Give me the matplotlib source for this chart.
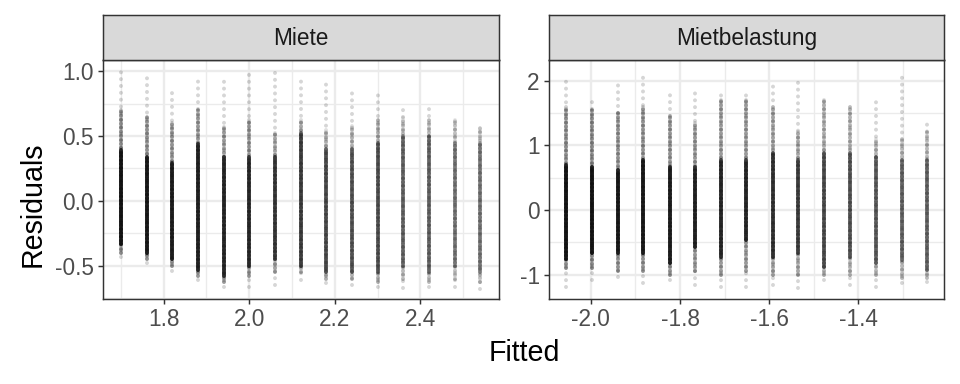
import numpy as np
import matplotlib
matplotlib.use("Agg")
import matplotlib.pyplot as plt
from matplotlib.ticker import FixedLocator

plt.rcParams['font.family'] = ['Liberation Sans', 'DejaVu Sans']

# Miete panel: one column of residuals per fitted value
miete_fitted = [1.70, 1.76, 1.82, 1.88, 1.94, 2.00, 2.06, 2.12, 2.18, 2.24, 2.30, 2.36, 2.42, 2.48, 2.54]
miete_max = [1.00, 0.99, 0.85, 0.93, 0.96, 1.00, 1.00, 0.97, 0.92, 0.88, 0.82, 0.71, 0.72, 0.65, 0.58]
miete_body_hi = [0.70, 0.65, 0.60, 0.70, 0.57, 0.62, 0.52, 0.62, 0.55, 0.58, 0.62, 0.64, 0.62, 0.62, 0.56]
miete_core_hi = [0.39, 0.34, 0.29, 0.44, 0.34, 0.34, 0.34, 0.52, 0.40, 0.40, 0.45, 0.50, 0.50, 0.45, 0.45]
miete_core_lo = [-0.33, -0.40, -0.45, -0.53, -0.58, -0.50, -0.45, -0.50, -0.55, -0.55, -0.55, -0.50, -0.55, -0.50, -0.55]
miete_body_lo = [-0.40, -0.45, -0.50, -0.58, -0.62, -0.58, -0.55, -0.55, -0.60, -0.60, -0.62, -0.60, -0.62, -0.60, -0.62]
miete_min = [-0.43, -0.48, -0.54, -0.61, -0.66, -0.66, -0.65, -0.61, -0.63, -0.65, -0.66, -0.67, -0.66, -0.66, -0.68]
miete_weight = [1.0, 0.95, 0.9, 0.85, 0.8, 0.75, 0.65, 0.6, 0.5, 0.45, 0.45, 0.35, 0.35, 0.25, 0.25]

# Mietbelastung panel
belast_fitted = [-2.055, -1.998, -1.940, -1.882, -1.823, -1.766, -1.709, -1.651,
                 -1.592, -1.535, -1.477, -1.419, -1.361, -1.302, -1.245]
belast_max = [2.09, 1.75, 2.03, 2.10, 1.86, 1.82, 1.87, 1.84, 2.00, 2.01, 1.70, 1.65, 1.76, 2.14, 1.39]
belast_body_hi = [1.60, 1.55, 1.50, 1.60, 1.45, 1.35, 1.70, 1.70, 1.60, 1.20, 1.70, 1.60, 1.10, 1.10, 1.20]
belast_core_hi = [0.70, 0.67, 0.62, 0.77, 0.67, 0.67, 0.77, 0.77, 0.88, 0.77, 0.88, 0.88, 0.82, 0.77, 0.77]
belast_core_lo = [-0.75, -0.67, -0.67, -0.67, -0.82, -0.57, -0.72, -0.46, -0.72, -0.67, -0.88, -0.72, -0.82, -0.77, -0.93]
belast_body_lo = [-0.90, -0.90, -0.95, -0.95, -1.00, -0.95, -1.00, -0.95, -1.00, -1.00, -1.00, -1.00, -1.00, -1.05, -1.05]
belast_min = [-1.19, -1.08, -1.03, -1.13, -1.08, -1.16, -1.19, -1.19, -1.16, -1.20, -1.09, -1.16, -1.19, -1.13, -1.11]
belast_weight = [1.0, 1.0, 0.95, 0.95, 0.9, 0.85, 0.8, 0.8, 0.7, 0.6, 0.5, 0.45, 0.4, 0.35, 0.35]

fig = plt.figure(figsize=(10, 4), dpi=96)


def draw_panel(rect, title, fitted, ymax, body_hi, core_hi, core_lo, body_lo, ymin, weight,
               xlim, ylim, xmajor, xminor, ymajor, yminor, xlabels, ylabels):
    ax = fig.add_axes(rect)
    ax.set_xlim(xlim)
    ax.set_ylim(ylim)
    ax.xaxis.set_major_locator(FixedLocator(xmajor))
    ax.xaxis.set_minor_locator(FixedLocator(xminor))
    ax.yaxis.set_major_locator(FixedLocator(ymajor))
    ax.yaxis.set_minor_locator(FixedLocator(yminor))
    ax.set_xticklabels(xlabels)
    ax.set_yticklabels(ylabels)
    ax.grid(which='major', color='#EBEBEB', lw=1.8, zorder=0)
    ax.grid(which='minor', color='#EBEBEB', lw=1.0, zorder=0)
    ax.set_axisbelow(True)
    ax.tick_params(which='major', length=4, width=1.1, color='#333333',
                   labelsize=17, labelcolor='#4D4D4D', pad=3)
    ax.tick_params(which='minor', length=0)
    for s in ax.spines.values():
        s.set_color('#333333')
        s.set_linewidth(1.1)

    for i, x in enumerate(fitted):
        w = weight[i]
        # sparse tails
        ax.plot([x, x], [ymin[i], ymax[i]], color='black', alpha=0.16, lw=3,
                ls=(0, (0.01, 1.7)), dash_capstyle='round', zorder=2)
        # body: denser dots
        ax.plot([x, x], [body_lo[i], body_hi[i]], color='black', alpha=0.12 + 0.2 * w,
                lw=3, ls=(0, (0.01, 1.0)), dash_capstyle='round', zorder=3)
        ax.plot([x, x], [body_lo[i], body_hi[i]], color='black', alpha=0.06 + 0.12 * w,
                lw=3, solid_capstyle='round', zorder=3)
        # dense core
        ax.plot([x, x], [core_lo[i], core_hi[i]], color='black', alpha=0.1 + 0.65 * w,
                lw=3, solid_capstyle='round', zorder=4)
        ax.plot([x, x], [core_lo[i], core_hi[i]], color='black', alpha=0.08 + 0.3 * w,
                lw=3, ls=(0, (0.01, 0.9)), dash_capstyle='round', zorder=4)

    # strip on top
    sax = fig.add_axes([rect[0], rect[1] + rect[3], rect[2], 0.1172])
    sax.set_facecolor('#D9D9D9')
    sax.set_xticks([])
    sax.set_yticks([])
    for s in sax.spines.values():
        s.set_color('#333333')
        s.set_linewidth(1.1)
    sax.text(0.5, 0.48, title, ha='center', va='center', fontsize=17, color='#1A1A1A',
             transform=sax.transAxes)
    return ax


draw_panel([0.1073, 0.2214, 0.4125, 0.6224], 'Miete',
           miete_fitted, miete_max, miete_body_hi, miete_core_hi, miete_core_lo, miete_body_lo,
           miete_min, miete_weight,
           (1.658, 2.584), (-0.754, 1.085),
           [1.8, 2.0, 2.2, 2.4], [1.7, 1.9, 2.1, 2.3, 2.5],
           [-0.5, 0.0, 0.5, 1.0], [-0.75, -0.25, 0.25, 0.75],
           ['1.8', '2.0', '2.2', '2.4'], ['-0.5', '0.0', '0.5', '1.0'])

draw_panel([0.5719, 0.2214, 0.4117, 0.6224], 'Mietbelastung',
           belast_fitted, belast_max, belast_body_hi, belast_core_hi, belast_core_lo, belast_body_lo,
           belast_min, belast_weight,
           (-2.094, -1.207), (-1.376, 2.32),
           [-2.0, -1.8, -1.6, -1.4], [-1.9, -1.7, -1.5, -1.3],
           [-1, 0, 1, 2], [-0.5, 0.5, 1.5],
           ['-2.0', '-1.8', '-1.6', '-1.4'], ['-1', '0', '1', '2'])

fig.text(0.546, 0.081, 'Fitted', ha='center', va='center', fontsize=21.5, color='black')
fig.text(0.034, 0.469, 'Residuals', ha='center', va='center', rotation=90, fontsize=21.5, color='black')

fig.savefig('out.png', dpi=96)
